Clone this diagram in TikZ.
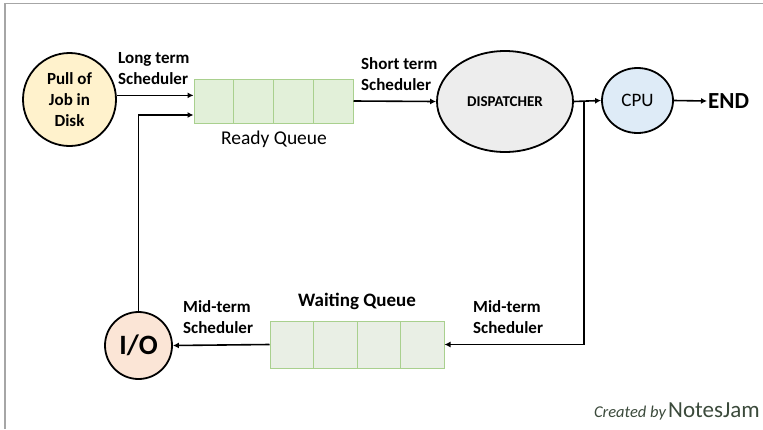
\documentclass[tikz,border=0pt]{standalone}
\usepackage{fontspec}
\setmainfont{Carlito}
\usetikzlibrary{arrows.meta,shapes.geometric}
\definecolor{pullfill}{HTML}{FFF2CC}
\definecolor{readyfill}{HTML}{E2F0D9}
\definecolor{waitfill}{HTML}{E9EFE5}
\definecolor{qline}{HTML}{A9D08E}
\definecolor{dispfill}{HTML}{EDEDED}
\definecolor{cpufill}{HTML}{DEEBF7}
\definecolor{iofill}{HTML}{FBE5D6}
\definecolor{framegray}{HTML}{A6A6A6}
\definecolor{creditcol}{HTML}{3B4A3B}
\begin{document}
\begin{tikzpicture}[x=1pt,y=-1pt,
        round/.style={circle, draw, line width=1.8pt, inner sep=0pt},
        oval/.style={ellipse, draw, line width=1.8pt, inner sep=0pt},
        cellbox/.style={draw=qline, line width=1pt, inner sep=0pt},
        conn/.style={line width=1.6pt, -{Latex[length=6pt,width=6pt]}},
        lbl/.style={align=left, inner sep=0pt, font=\fontsize{17}{21}\selectfont\bfseries}]
        \useasboundingbox (0,0) rectangle (763,429);
        \draw [framegray, line width=1.2pt] (5,429) -- (5,3.5) -- (763,3.5);

        \node (pull) at (69.5,99.5) [round, fill=pullfill, minimum size=93pt, align=center, font=\fontsize{17}{21}\selectfont\bfseries] {Pull of\\Job in\\Disk};
        \node (ready) at (273.5,101) [cellbox, fill=readyfill, minimum width=159pt, minimum height=44pt] {};
        \draw [qline, line width=1pt] (233.5,79) -- (233.5,123);
        \draw [qline, line width=1pt] (273.5,79) -- (273.5,123);
        \draw [qline, line width=1pt] (313.5,79) -- (313.5,123);
        \node (disp) at (505,101.5) [oval, fill=dispfill, minimum width=136pt, minimum height=101pt, font=\fontsize{15}{17}\selectfont\bfseries] {DISPATCHER};
        \node (cpu) at (637.5,100.5) [oval, fill=cpufill, minimum width=71pt, minimum height=65pt, font=\fontsize{19}{21}\selectfont] {CPU};
        \node (endn) at (707,101) [anchor=west, inner sep=1pt, font=\fontsize{23}{26}\selectfont\bfseries] {END};
        \node (wait) at (357,344.5) [cellbox, fill=waitfill, minimum width=174pt, minimum height=47pt] {};
        \draw [qline, line width=1pt] (313.5,321) -- (313.5,368);
        \draw [qline, line width=1pt] (357,321) -- (357,368);
        \draw [qline, line width=1pt] (400.5,321) -- (400.5,368);
        \node (io) at (138.5,345.5) [round, fill=iofill, minimum size=67pt, font=\fontsize{28}{30}\selectfont\bfseries] {I/O};

        \node (ltlbl) at (118,68.5) [lbl, anchor=west] {Long term\\Scheduler};
        \node (stlbl) at (361,74) [lbl, anchor=west] {Short term\\Scheduler};
        \node (mtleft) at (183,317) [lbl, anchor=west] {Mid-term\\Scheduler};
        \node (mtright) at (473,317) [lbl, anchor=west] {Mid-term\\Scheduler};
        \node (rqlbl) at (274,139) [font=\fontsize{19.5}{22}\selectfont] {Ready Queue};
        \node (wqlbl) at (357,301) [font=\fontsize{19}{22}\selectfont\bfseries] {Waiting Queue};
        \node (credit) at (760,411) [anchor=east, inner sep=0pt, text=creditcol] {{\fontsize{16.5}{18}\selectfont\itshape Created by} {\fontsize{23}{24}\selectfont NotesJam}};

        \coordinate (split) at ([xshift=10pt]disp.east);
        \draw [conn] (pull.5) -- (pull.5 -| ready.west);
        \draw [conn] (io.north) |- ([yshift=-14pt]ready.west);
        \draw [conn] (ready.east) -- (disp.west);
        \draw [conn] (disp.east) -- (cpu.west);
        \draw [conn] (split) |- (wait.east);
        \draw [conn] (wait.west) -- (io.east);
        \draw [conn] (cpu.east) -- (endn.west);
    \end{tikzpicture}
\end{document}
